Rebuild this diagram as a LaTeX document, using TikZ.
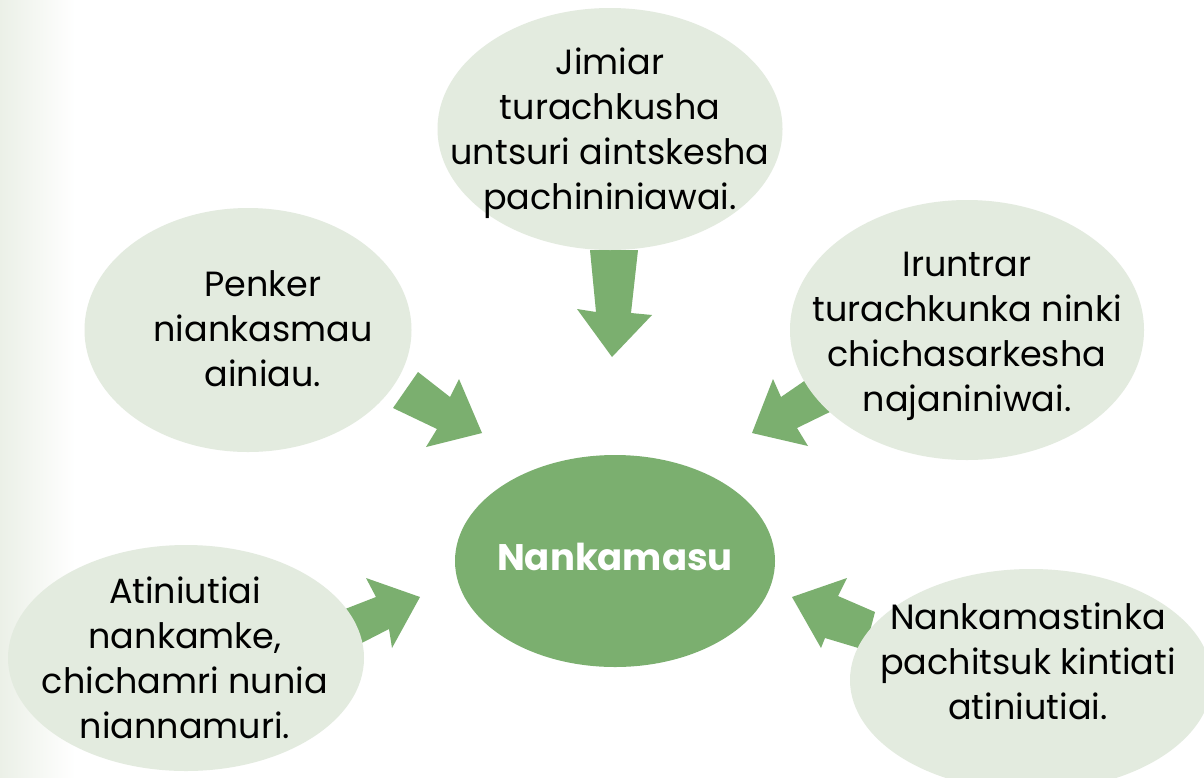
\documentclass[tikz,border=0pt]{standalone}
\usepackage{fontspec}
\setmainfont{Poppins}
\usetikzlibrary{shapes.geometric}
\definecolor{lightg}{HTML}{E3EBDF}
\definecolor{midg}{HTML}{7BAF6F}
\definecolor{bgstrip}{HTML}{EBF0E7}
\tikzset{
  bubble/.style={ellipse, fill=lightg, inner sep=0pt},
  core/.style={ellipse, fill=midg, inner sep=0pt},
  txt/.style={align=center, font=\fontsize{35}{45}\selectfont, text=black, inner sep=0pt},
  blockarrow/.style={fill=midg}
}
\begin{document}
\begin{tikzpicture}[x=1pt,y=-1pt]
\useasboundingbox (0,0) rectangle (1204,777);
\fill[white] (0,0) rectangle (1204,777);
\shade[left color=bgstrip, right color=white] (0,0) rectangle (75,777);
% arrows (under the bubbles)
\fill[blockarrow] (590,250) -- (596,312) -- (577,309) -- (612,357) -- (652,315) -- (631,313) -- (638,250) -- cycle;
\fill[blockarrow] (418,372) -- (450,397) -- (459,379) -- (482,433) -- (426,447) -- (437,429) -- (393,408) -- cycle;
\fill[blockarrow] (340,611) -- (376,597) -- (366,578) -- (420,597) -- (392,648) -- (389,629) -- (350,649) -- cycle;
\fill[blockarrow] (813,375) -- (781,397) -- (773,379) -- (752,433) -- (808,446) -- (797,428) -- (838,408) -- cycle;
\fill[blockarrow] (875,612) -- (838,596) -- (847,578) -- (792,597) -- (821,648) -- (825,638) -- (865,650) -- cycle;
% bubbles
\node[bubble, minimum width=345pt, minimum height=242pt] (top) at (610,129) {};
\node[bubble, minimum width=327pt, minimum height=244pt] (ul) at (248,330) {};
\node[bubble, minimum width=354pt, minimum height=260pt] (ur) at (967,330) {};
\node[bubble, minimum width=356pt, minimum height=226pt] (ll) at (186,658) {};
\node[bubble, minimum width=362pt, minimum height=222pt] (lr) at (1031,680) {};
\node[core, minimum width=320pt, minimum height=212pt] (c) at (615,561) {};
% texts
\node[txt] (ttop) at (610,133) {Jimiar\\turachkusha\\untsuri aintskesha\\pachininiawai.};
\node[txt] (tul) at (263,329) {Penker\\niankasmau\\ainiau.};
\node[txt] (tur) at (967,336) {Iruntrar\\turachkunka ninki\\chichasarkesha\\najaniniwai.};
\node[txt] (tll) at (185,658) {Atiniutiai\\nankamke,\\chichamri nunia\\niannamuri.};
\node[txt] (tlr) at (1028,661) {Nankamastinka\\pachitsuk kintiati\\atiniutiai.};
\node[txt, text=white, font=\fontsize{37}{45}\selectfont\bfseries] (tc) at (615,557) {Nankamasu};
\end{tikzpicture}
\end{document}
